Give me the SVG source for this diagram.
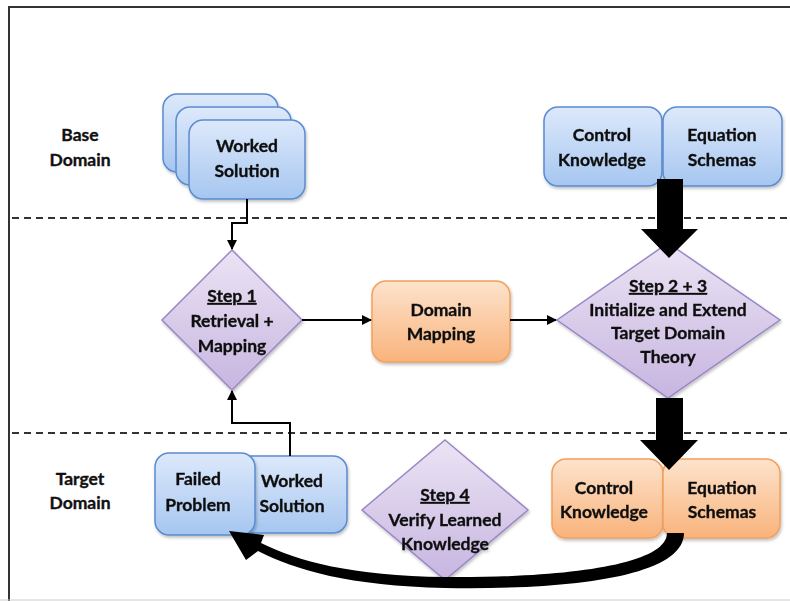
<svg xmlns="http://www.w3.org/2000/svg" width="790" height="601" viewBox="0 0 790 601">
<defs>
<linearGradient id="gBlue" x1="0" y1="0" x2="0" y2="1"><stop offset="0" stop-color="#dde9fb"/><stop offset="1" stop-color="#a6c6f0"/></linearGradient>
<linearGradient id="gOrange" x1="0" y1="0" x2="0" y2="1"><stop offset="0" stop-color="#fde3cc"/><stop offset="1" stop-color="#f9b37c"/></linearGradient>
<linearGradient id="gPurple" x1="0" y1="0" x2="0" y2="1"><stop offset="0" stop-color="#ebe4f4"/><stop offset="1" stop-color="#c7b5e0"/></linearGradient>
<filter id="sh" x="-10%" y="-10%" width="130%" height="130%"><feDropShadow dx="1" dy="2" stdDeviation="1.5" flood-color="#000" flood-opacity="0.25"/></filter>
<marker id="ah" viewBox="0 0 10 10" refX="9" refY="5" markerWidth="5" markerHeight="5" orient="auto"><path d="M0,0 L10,5 L0,10 z" fill="#000"/></marker>
<style>
.t{font-family:"Lato","Liberation Sans",sans-serif;font-weight:bold;font-size:17.5px;fill:#111;stroke:#111;stroke-width:0.35;text-anchor:middle}
.blue{fill:url(#gBlue);stroke:#5b8bd0;stroke-width:1.5}
.orange{fill:url(#gOrange);stroke:#f2a05c;stroke-width:1.5}
.purple{fill:url(#gPurple);stroke:#9a86c6;stroke-width:1.5}
.dash{stroke:#333;stroke-width:2;stroke-dasharray:7,5;fill:none}
.conn{stroke:#000;stroke-width:2;fill:none}
</style>
</defs>
<rect x="0" y="0" width="790" height="601" fill="#fff"/>
<path d="M9,601 L9,7 L790,7" fill="none" stroke="#333" stroke-width="2"/>
<line x1="0" y1="600" x2="790" y2="600" stroke="#ccc" stroke-width="1"/>
<line class="dash" x1="12" y1="218" x2="790" y2="218"/>
<line class="dash" x1="12" y1="433" x2="790" y2="433"/>

<g id="label-base"><text class="t" x="80" y="141">Base</text><text class="t" x="80" y="166">Domain</text></g>
<g id="label-target"><text class="t" x="80" y="485">Target</text><text class="t" x="80" y="509">Domain</text></g>

<g id="base-worked-solution" filter="url(#sh)">
<rect class="blue" x="163" y="94" width="115" height="78" rx="14"/>
<rect class="blue" x="176" y="107" width="115" height="78" rx="14"/>
<rect class="blue" x="189" y="120" width="116" height="79" rx="14"/>
<text class="t" x="247" y="152">Worked</text><text class="t" x="247" y="177">Solution</text>
</g>

<g id="base-control-knowledge" filter="url(#sh)">
<rect class="blue" x="544" y="107" width="118" height="79" rx="14"/>
<text class="t" x="602" y="141">Control</text><text class="t" x="602" y="166">Knowledge</text>
</g>
<g id="base-equation-schemas" filter="url(#sh)">
<rect class="blue" x="663" y="107" width="119" height="79" rx="14"/>
<text class="t" x="722" y="141">Equation</text><text class="t" x="722" y="166">Schemas</text>
</g>

<g id="step1" filter="url(#sh)">
<polygon class="purple" points="232,250 302,320 232,390 162,320"/>
<text class="t" x="232" y="302" text-decoration="underline">Step 1</text>
<text class="t" x="232" y="327">Retrieval +</text>
<text class="t" x="232" y="352">Mapping</text>
</g>

<g id="domain-mapping" filter="url(#sh)">
<rect class="orange" x="372" y="281" width="138" height="81" rx="14"/>
<text class="t" x="441" y="316">Domain</text><text class="t" x="441" y="340">Mapping</text>
</g>

<g id="step23" filter="url(#sh)">
<polygon class="purple" points="668,243 780,320 668,398 557,320"/>
<text class="t" x="668" y="292" text-decoration="underline">Step 2 + 3</text>
<text class="t" x="668" y="316">Initialize and Extend</text>
<text class="t" x="668" y="339">Target Domain</text>
<text class="t" x="668" y="363">Theory</text>
</g>

<g id="target-worked-solution" filter="url(#sh)">
<rect class="blue" x="235" y="456" width="112" height="77" rx="14"/>
<text class="t" x="292" y="487">Worked</text><text class="t" x="292" y="512">Solution</text>
</g>
<g id="failed-problem" filter="url(#sh)">
<rect class="blue" x="155" y="453" width="100" height="82" rx="14"/>
<text class="t" x="198" y="485">Failed</text><text class="t" x="198" y="511">Problem</text>
</g>

<g id="step4" filter="url(#sh)">
<polygon class="purple" points="445,440 528,510 445,580 362,510"/>
<text class="t" x="445" y="501" text-decoration="underline">Step 4</text>
<text class="t" x="445" y="526">Verify Learned</text>
<text class="t" x="445" y="550">Knowledge</text>
</g>

<g id="target-control-knowledge" filter="url(#sh)">
<rect class="orange" x="552" y="459" width="111" height="79" rx="14"/>
<text class="t" x="604" y="494">Control</text><text class="t" x="604" y="518">Knowledge</text>
</g>
<g id="target-equation-schemas" filter="url(#sh)">
<rect class="orange" x="663" y="459" width="117" height="79" rx="14"/>
<text class="t" x="722" y="494">Equation</text><text class="t" x="722" y="518">Schemas</text>
</g>

<g id="connectors">
<path class="conn" d="M247,199 L247,223 L232,223 L232,249" marker-end="url(#ah)"/>
<path class="conn" d="M290,456 L290,423 L232,423 L232,391" marker-end="url(#ah)"/>
<path class="conn" d="M302,320 L371,320" marker-end="url(#ah)"/>
<path class="conn" d="M510,320 L556,320" marker-end="url(#ah)"/>
<polygon points="657,179 683,179 683,229 698,229 669,258 641,229 657,229" fill="#000"/>
<polygon points="656,398 683,398 683,440 698,440 669,470 640,440 656,440" fill="#000"/>
<path d="M684,533 C684,577 570,590 445,588 C350,586 295,570 258,551 L246,560 L229,531 L264,535 L261,543 C297,561 352,576 445,577 C565,578 667,565 667,533 Z" fill="#000"/>
</g>
</svg>
